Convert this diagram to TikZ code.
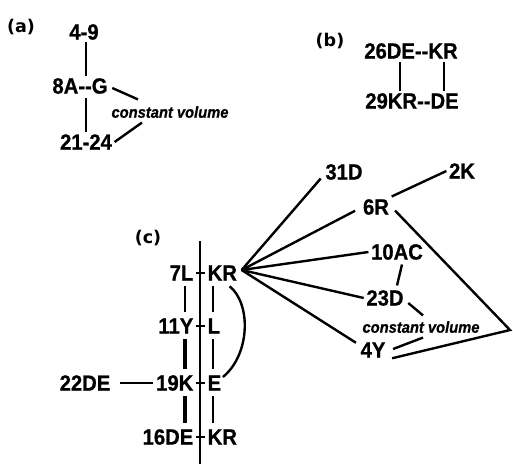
\documentclass[tikz,border=0pt]{standalone}
\usepackage{fontspec}
\setmainfont{Liberation Sans}
\newfontfamily\txtfont[FakeStretch=0.92, BoldFeatures={FakeBold=0.8}, BoldItalicFeatures={FakeBold=0.6}]{Liberation Sans}
\newfontfamily\labfont{DejaVu Sans}
\usetikzlibrary{calc}
\begin{document}
\begin{tikzpicture}[x=1pt,y=-1pt,
  lbl/.style={font=\txtfont\fontsize{22}{25}\selectfont\bfseries, inner sep=2.5pt},
  cv/.style={font=\txtfont\fontsize{16}{18}\selectfont\bfseries\itshape, inner sep=2.5pt},
  panel/.style={font=\labfont\fontsize{17.5}{20}\selectfont\bfseries, inner sep=0pt},
  ln/.style={line width=2.4pt},
  thk/.style={line width=3.4pt},
  col/.style={shorten <=3pt, shorten >=4pt}]
\useasboundingbox (0,0) rectangle (513,466);

% ---------- (a)
\node[panel] (pa) at (21,27) {(a)};
\node[lbl] (n49) at (84,32) {4-9};
\node[lbl] (n8) at (80,86) {8A-{}-G};
\node[lbl] (n21) at (86,142) {21-24};
\node[cv] (cva) at (170,112) {constant volume};
\draw[ln] ($(n49.south)+(2,0)$) -- ($(n8.north)+(6,0)$);
\draw[ln] ($(n8.south)+(6,2)$) -- (n21.north);
\draw[ln] ($(n8.east)+(2,2)$) -- ($(cva.north)+(-32,-4)$);
\draw[ln] (n21.east) -- ($(cva.south)+(-28,2)$);

% ---------- (b)
\node[panel] (pb) at (330,41) {(b)};
\node[lbl] (n26) at (411,51) {26DE-{}-KR};
\node[lbl] (n29) at (412,101) {29KR-{}-DE};
\draw[ln] ($(n26.south)+(-11,1)$) -- ($(n29.north)+(-12,0)$);
\draw[ln] ($(n26.south)+(33,1)$) -- ($(n29.north)+(32,0)$);

% ---------- (c)
\node[panel] (pc) at (148,238) {(c)};
\coordinate (vt) at (200,241);
\coordinate (vb) at (200,464);
\draw[ln] (vt) -- (vb);

\node[lbl, anchor=east] (r1l) at (196,273) {7L};
\node[lbl, anchor=west] (r1r) at (205,273) {KR};
\node[lbl, anchor=east] (r2l) at (196,326) {11Y};
\node[lbl, anchor=west] (r2r) at (205,326) {L};
\node[lbl, anchor=east] (r3l) at (196,383) {19K};
\node[lbl, anchor=west] (r3r) at (205,383) {E};
\node[lbl, anchor=east] (r4l) at (196,437) {16DE};
\node[lbl, anchor=west] (r4r) at (205,437) {KR};
\node[lbl] (n22) at (85,383) {22DE};

\foreach \r in {1,2,3,4}{
  \draw[ln] (r\r l.east) -- (r\r r.west);
}
% left column
\draw[ln,col] ($(r1l.south east)+(-11,0)$) -- ($(r2l.north east)+(-11,0)$);
\draw[thk,col] ($(r2l.south east)+(-11,0)$) -- ($(r3l.north east)+(-11,0)$);
\draw[thk,col] ($(r3l.south east)+(-11,0)$) -- ($(r4l.north east)+(-11,0)$);
% right column
\draw[ln,col] ($(r1r.south west)+(8,0)$) -- ($(r2r.north west)+(8,0)$);
\draw[ln,col] ($(r2r.south west)+(8,0)$) -- ($(r3r.north west)+(8,0)$);
\draw[ln,col] ($(r3r.south west)+(8,0)$) -- ($(r4r.north west)+(8,0)$);

\draw[ln, shorten <=7pt] (n22.east) -- (r3l.west);

% arc KR -> E
\draw[ln] ($(r1r.south east)+(-10,3)$) .. controls +(22,18) and +(27,-22) .. ($(r3r.east)+(-1,-6)$);

% right part
\node[lbl] (n31) at (344,172) {31D};
\node[lbl] (n2k) at (462,171) {2K};
\node[lbl] (n6r) at (376,207) {6R};
\node[lbl] (n10) at (397,252) {10AC};
\node[lbl] (n23) at (385,298) {23D};
\node[cv] (cv2) at (421,327) {constant volume};
\node[lbl] (n4y) at (373,350) {4Y};
\coordinate (apex) at (510,330);
\coordinate (hub) at ($(r1r.east)+(2,-3)$);

\draw[ln] (hub) -- ($(n31.south west)+(-2,-4)$);
\draw[ln, shorten >=6pt] (hub) -- ($(n6r.west)+(0,1)$);
\draw[ln] (hub) -- (n10.west);
\draw[ln] (hub) -- (n23.west);
\draw[ln] (hub) -- ($(n4y.north west)+(-2,3)$);

\draw[ln] (n6r.north east) -- (n2k.west);
\draw[ln, shorten <=5pt] (n6r.east) -- (apex) -- ($(n4y.south east)+(4,-2)$);
\draw[ln] ($(n10.south)+(5,2)$) -- ($(n23.north)+(12,-2)$);
\draw[ln] ($(n23.east)+(2,5)$) -- ($(cv2.north)+(2,-3)$);
\draw[ln] ($(n4y.east)+(5,-1)$) -- ($(cv2.south)+(2,2)$);
\end{tikzpicture}
\end{document}
